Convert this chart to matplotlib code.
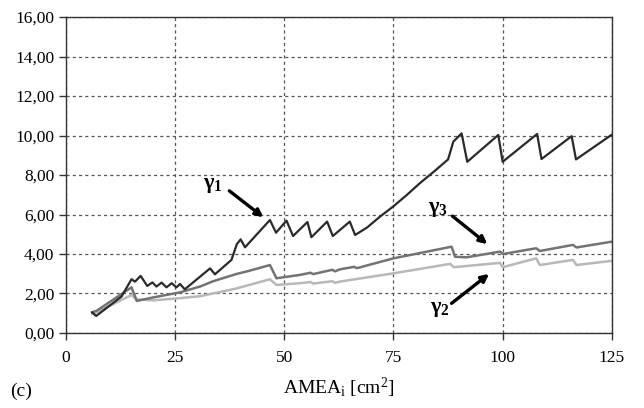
import matplotlib
matplotlib.use("Agg")
import matplotlib.pyplot as plt
from matplotlib.ticker import FuncFormatter

# data
g1_x = [6.0, 6.9, 12.7, 15.0, 15.8, 17.1, 18.6, 19.8, 20.7, 21.9, 23.0, 24.2, 25.3, 26.1, 27.2,
        30.7, 33.0, 34.1, 37.9, 39.1, 40.0, 41.0, 46.7, 48.1, 50.5, 52.0, 55.3, 56.2, 59.8, 61.1,
        65.0, 66.2, 69.0, 71.9, 74.9, 78.0, 81.0, 84.3, 87.5, 88.7, 90.6, 91.9, 99.0, 100.0,
        107.9, 108.9, 115.8, 116.8, 124.9]
g1_y = [1.03, 0.86, 1.84, 2.72, 2.60, 2.89, 2.38, 2.56, 2.35, 2.55, 2.31, 2.52, 2.31, 2.48, 2.21,
        2.85, 3.27, 2.97, 3.70, 4.49, 4.74, 4.34, 5.72, 5.08, 5.69, 4.91, 5.62, 4.85, 5.64, 4.91,
        5.64, 4.96, 5.35, 5.89, 6.40, 6.98, 7.58, 8.18, 8.79, 9.69, 10.11, 8.67, 10.03, 8.67,
        10.08, 8.81, 9.97, 8.79, 10.03]

g3_x = [6.0, 7.0, 15.0, 16.2, 20.0, 26.0, 30.7, 33.7, 39.1, 42.0, 46.7, 48.2, 53.6, 56.0, 56.6,
        61.0, 61.6, 62.7, 66.0, 66.6, 75.0, 80.0, 88.3, 89.1, 91.7, 99.4, 100.1, 107.7, 108.5,
        116.1, 116.9, 124.9]
g3_y = [1.05, 1.12, 2.31, 1.62, 1.80, 2.05, 2.35, 2.62, 2.99, 3.15, 3.44, 2.77, 2.94, 3.05, 2.98,
        3.20, 3.12, 3.22, 3.35, 3.28, 3.78, 4.00, 4.37, 3.86, 3.83, 4.12, 4.00, 4.29, 4.15,
        4.46, 4.33, 4.62]

g2_x = [6.0, 7.0, 15.0, 16.2, 20.0, 26.0, 30.7, 39.0, 46.7, 48.2, 53.6, 56.0, 56.6, 61.0, 61.6,
        62.7, 75.0, 88.0, 88.8, 99.4, 100.0, 107.7, 108.5, 116.1, 116.9, 124.9]
g2_y = [1.00, 1.05, 1.92, 1.70, 1.65, 1.76, 1.86, 2.25, 2.72, 2.43, 2.52, 2.58, 2.50, 2.62, 2.54,
        2.60, 3.02, 3.50, 3.33, 3.55, 3.33, 3.78, 3.44, 3.70, 3.44, 3.65]

x_ticks = [0, 25, 50, 75, 100, 125]
y_ticks = [0, 2, 4, 6, 8, 10, 12, 14, 16]

plt.rcParams["font.family"] = ["Liberation Serif", "DejaVu Serif"]
plt.rcParams["mathtext.fontset"] = "custom"
plt.rcParams["mathtext.rm"] = "Liberation Serif"
plt.rcParams["mathtext.it"] = "Liberation Serif:italic"
plt.rcParams["mathtext.bf"] = "Liberation Serif:bold"

fig = plt.figure(figsize=(6.44, 4.08), dpi=100)
ax = fig.add_axes([0.1025, 0.184, 0.8475, 0.774])

ax.plot(g2_x, g2_y, color="#b8b8b8", lw=1.8)
ax.plot(g3_x, g3_y, color="#737373", lw=1.8)
ax.plot(g1_x, g1_y, color="#2a2a2a", lw=1.6)

ax.set_xlim(0, 125)
ax.set_ylim(0, 16)
ax.set_xticks(x_ticks)
ax.set_yticks(y_ticks)
ax.yaxis.set_major_formatter(FuncFormatter(lambda v, p: f"{v:.2f}".replace(".", ",")))
ax.tick_params(direction="out", length=5, width=1, labelsize=12.5, color="#333333")
ax.tick_params(axis="x", pad=7)
ax.grid(True, color="#555555", lw=0.9, linestyle=(0, (2.5, 2.5)))
for s in ax.spines.values():
    s.set_color("#333333")
    s.set_linewidth(1)

ax.set_xlabel(r"AMEA$_\mathrm{i}$ [cm$^\mathrm{2}$]", fontsize=14, labelpad=7)
fig.text(0.015, 0.04, "(c)", fontsize=14, va="center")

arrow = dict(arrowstyle="-|>", color="black", lw=2.4, mutation_scale=11, shrinkA=0, shrinkB=0)
ax.annotate("", xy=(45.2, 5.86), xytext=(37.4, 7.2), arrowprops=arrow)
ax.annotate("", xy=(96.5, 4.5), xytext=(88.5, 5.92), arrowprops=arrow)
ax.annotate("", xy=(96.9, 2.99), xytext=(88.3, 1.5), arrowprops=arrow)
ax.text(33.7, 7.49, r"$\mathbf{γ}_\mathbf{1}$", fontsize=16, ha="center", va="center")
ax.text(85.2, 6.23, r"$\mathbf{γ}_\mathbf{3}$", fontsize=16, ha="center", va="center")
ax.text(85.6, 1.2, r"$\mathbf{γ}_\mathbf{2}$", fontsize=16, ha="center", va="center")

fig.savefig("out.png", dpi=100)
